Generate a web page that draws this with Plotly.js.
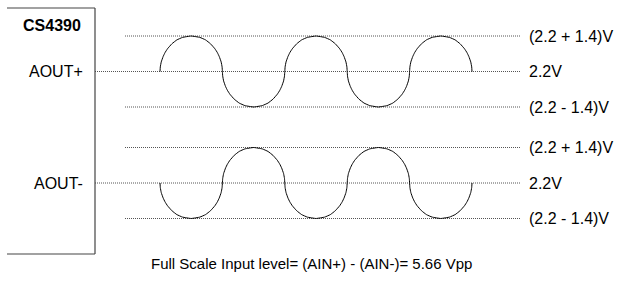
<!DOCTYPE html>
<html>
<head>
<meta charset="utf-8">
<script src="https://cdn.plot.ly/plotly-3.0.1.min.js"></script>
<style>html,body{margin:0;padding:0;background:#fff}#chart{width:620px;height:284px}</style>
</head>
<body>
<div id="chart"></div>
<script>
// ---- data ----
const deviceName = 'CS4390';
const outputNames = ['AOUT+', 'AOUT-'];
const vCommon = 2.2;          // V
const vSwing = 1.4;           // V
const levelLabels = ['(2.2 + 1.4)V', '2.2V', '(2.2 - 1.4)V'];
// sign of each half-cycle (5 half-cycles drawn)
const halfSignsPos = [1, -1, 1, -1, 1];
const halfSignsNeg = [-1, 1, -1, 1, -1];
// shape of one half-cycle (position within the half, fraction of swing)
const profileT = [0, 0.005, 0.02, 0.05, 0.08, 0.12, 0.19, 0.27, 0.36, 0.5, 0.64, 0.73, 0.81, 0.88, 0.92, 0.95, 0.98, 0.995, 1];
const profileH = [0, 0.13, 0.27, 0.42, 0.53, 0.64, 0.78, 0.89, 0.96, 1.0, 0.96, 0.89, 0.78, 0.64, 0.53, 0.42, 0.27, 0.13, 0];
const footnote = 'Full Scale Input level= (AIN+) - (AIN-)= 5.66 Vpp';

// ---- layout geometry (pixels) ----
const W = 620, H = 284;
const x0px = 160, halfPx = 62.4;
const midPx = [71.5, 183];
const pxPerV = 35.5 / vSwing;
const lineStartMid = 95, lineStartOuter = 125, lineEnd = 520, labelX = 527;
const boxL = 7, boxR = 95, boxT = 8, boxB = 254;

const t = px => (px - x0px) / halfPx;
const levels = [vCommon + vSwing, vCommon, vCommon - vSwing];

function wave(signs) {
  const xs = [], ys = [];
  signs.forEach((s, k) => {
    profileT.forEach((pt, i) => {
      if (k > 0 && i === 0) return;
      xs.push(k + pt);
      ys.push(vCommon + s * vSwing * profileH[i]);
    });
  });
  return {xs, ys};
}

const traces = [];
const axesY = ['y', 'y2'];
[halfSignsPos, halfSignsNeg].forEach((signs, g) => {
  const w = wave(signs);
  traces.push({x: w.xs, y: w.ys, yaxis: axesY[g], type: 'scatter', mode: 'lines',
    line: {color: '#000', width: 1, shape: 'spline', smoothing: 0.3}, hoverinfo: 'skip', showlegend: false});
});

const shapes = [];
const annotations = [];
const dotLine = {color: '#555', width: 1, dash: '1px,1px'};
axesY.forEach((ya, g) => {
  levels.forEach((lv, i) => {
    shapes.push({type: 'line', xref: 'x', yref: ya, x0: t(i === 1 ? lineStartMid : lineStartOuter), x1: t(lineEnd),
      y0: lv, y1: lv, line: dotLine, layer: 'below'});
    annotations.push({xref: 'paper', yref: ya, x: labelX / W, y: lv, text: levelLabels[i], showarrow: false,
      xanchor: 'left', yanchor: 'middle', font: {size: 16}});
  });
  annotations.push({xref: 'paper', yref: ya, x: 85 / W, y: vCommon, text: outputNames[g], showarrow: false,
    xanchor: 'right', yanchor: 'middle', font: {size: 16}});
});
// box
const P = (px, py) => [px / W, 1 - py / H];
[[boxL, boxT, boxR, boxT], [boxR, boxT, boxR, boxB], [boxL, boxB, boxR, boxB]].forEach(s => {
  const a = P(s[0], s[1]), b = P(s[2], s[3]);
  shapes.push({type: 'line', xref: 'paper', yref: 'paper', x0: a[0], y0: a[1], x1: b[0], y1: b[1],
    line: {color: '#444', width: 1.2}});
});
annotations.push({xref: 'paper', yref: 'paper', x: 52 / W, y: 1 - 25 / H, text: '<b>' + deviceName + '</b>',
  showarrow: false, xanchor: 'center', yanchor: 'middle', font: {size: 16}});
annotations.push({xref: 'paper', yref: 'paper', x: 311 / W, y: 1 - 263 / H, text: footnote,
  showarrow: false, xanchor: 'center', yanchor: 'middle', font: {size: 15}});

const rangeY = (mid, top, bot) => [vCommon - (bot - mid) / pxPerV, vCommon + (mid - top) / pxPerV];

const layout = {
  width: W, height: H, margin: {l: 0, r: 0, t: 0, b: 0},
  paper_bgcolor: '#fff', plot_bgcolor: '#fff',
  font: {family: '"Liberation Sans", Arial, sans-serif', color: '#000'},
  xaxis: {range: [t(0), t(W)], visible: false, fixedrange: true},
  yaxis: {domain: [0.5, 1], range: rangeY(midPx[0], 0, H / 2), visible: false, fixedrange: true},
  yaxis2: {domain: [0, 0.5], range: rangeY(midPx[1], H / 2, H), visible: false, fixedrange: true},
  shapes, annotations, showlegend: false
};
Plotly.newPlot('chart', traces, layout, {displayModeBar: false, staticPlot: true});
</script>
</body>
</html>
